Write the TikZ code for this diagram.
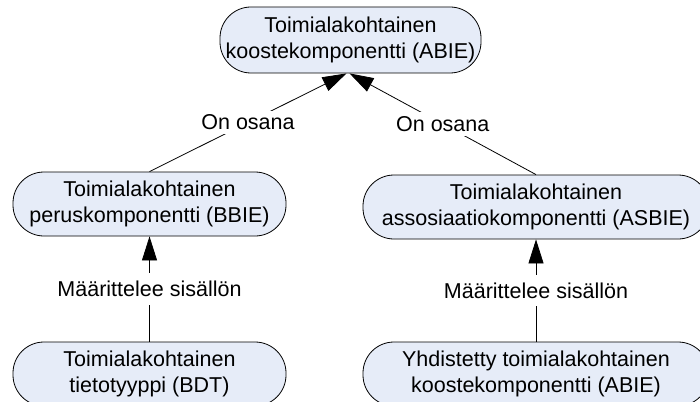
\documentclass[tikz,border=0pt]{standalone}
\usepackage{fontspec}
\setmainfont{Liberation Sans}
\usetikzlibrary{arrows.meta}
\definecolor{boxfill}{RGB}{230,236,248}
\tikzset{
  entity/.style={draw=black, line width=0.8pt, fill=boxfill, rounded corners=31pt,
    minimum height=64pt, align=center, inner sep=0pt,
    font=\fontsize{21.5}{26.5}\selectfont},
  rel/.style={draw=black, line width=0.8pt, -{Triangle[length=24pt,width=15pt]}},
  rellabel/.style={fill=white, inner xsep=2pt, inner ysep=4pt,
    font=\fontsize{21.5}{26.5}\selectfont}
}
\begin{document}
\begin{tikzpicture}[x=1pt,y=-1pt]
  \useasboundingbox (0,0) rectangle (700,401);
  % aggregate component at the top
  \node[entity, minimum width=261pt, minimum height=66pt] (abie) at (350.5,40)
    {Toimialakohtainen\\koostekomponentti (ABIE)};
  % middle row
  \node[entity, minimum width=273pt] (bbie) at (149.5,204)
    {Toimialakohtainen\\peruskomponentti (BBIE)};
  \node[entity, minimum width=346pt] (asbie) at (536,207)
    {Toimialakohtainen\\assosiaatiokomponentti (ASBIE)};
  % bottom row
  \node[entity, minimum width=273pt] (bdt) at (149.5,374)
    {Toimialakohtainen\\tietotyyppi (BDT)};
  \node[entity, minimum width=346pt] (abie2) at (536,374)
    {Yhdistetty toimialakohtainen\\koostekomponentti (ABIE)};
  % "is part of" relations
  \draw[rel] (bbie.north) -- node[rellabel] {On osana} ([xshift=-4pt]abie.south);
  \draw[rel] (asbie.north) -- node[rellabel] {On osana} ([xshift=-1pt]abie.south);
  % "defines content" relations
  \draw[rel] (bdt.north) -- node[rellabel, inner ysep=8pt] {Määrittelee sisällön} (bbie.south);
  \draw[rel] (abie2.north) -- node[rellabel, inner ysep=8pt] {Määrittelee sisällön} (asbie.south);
\end{tikzpicture}
\end{document}
